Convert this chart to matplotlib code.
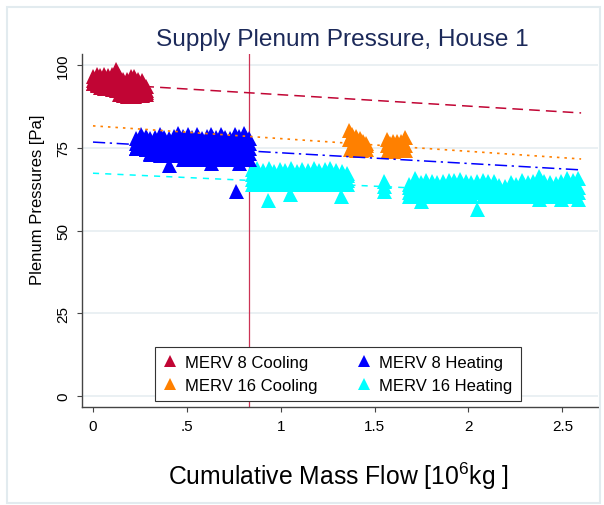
import matplotlib
matplotlib.use("Agg")
import matplotlib.pyplot as plt
from matplotlib.patches import Rectangle

plt.rcParams['font.family'] = ['Liberation Sans', 'DejaVu Sans']
plt.rcParams['mathtext.fontset'] = 'custom'
plt.rcParams['mathtext.rm'] = 'Liberation Sans'

# -- Datos (filas de cada nube de puntos) ------------------------------
# MERV 8 Cooling
m8c_cols = [0.00, 0.02, 0.04, 0.06, 0.08, 0.10, 0.12, 0.14, 0.16, 0.18, 0.20, 0.22, 0.24, 0.26, 0.28]
m8c_top = [96.8, 97.2, 96.9, 97.3, 97.0, 97.3, 98.9, 96.8, 95.6, 95.9, 96.6, 96.8, 95.8, 95.3, 93.5]
m8c_r2 = [95.5, 95.6, 95.4, 95.6, 95.5, 95.4, 95.6, 95.0, 94.2, 94.2, 94.5, 94.4, 94.0, 93.8, 92.5]
m8c_r3 = [94.4, 94.3, 94.0, 94.2, 94.0, 93.8, 93.6, 93.0, 92.5, 92.4, 92.5, 92.3, 92.4, 92.2, 91.8]
m8c_bot = [94.4, 93.8, 93.3, 93.0, 92.9, 92.8, 92.3, 91.3, 90.8, 90.5, 90.6, 90.5, 90.8, 90.8, 91.2]

# MERV 8 Heating
m8h_cols = [0.23, 0.255, 0.28, 0.305, 0.33, 0.355, 0.38, 0.405, 0.43, 0.455, 0.48, 0.505, 0.53,
            0.555, 0.58, 0.605, 0.63, 0.655, 0.68, 0.705, 0.73, 0.755, 0.78, 0.805, 0.83]
m8h_top = [77.8, 79.2, 78.5, 78.0, 78.2, 79.2, 78.3, 78.0, 78.6, 79.4, 78.4, 79.2, 78.3,
           79.2, 78.0, 78.4, 79.0, 78.2, 79.1, 78.3, 78.0, 79.2, 78.4, 79.3, 77.8]
m8h_r2 = [76.4, 76.8, 76.6, 76.5, 76.7, 76.8, 76.5, 76.6, 76.7, 76.8, 76.5, 76.7, 76.6,
          76.8, 76.5, 76.6, 76.8, 76.5, 76.7, 76.6, 76.5, 76.8, 76.6, 76.7, 76.3]
m8h_r3 = [74.9, 75.2, 75.0, 75.1, 75.0, 75.2, 74.9, 75.1, 75.0, 75.2, 75.0, 75.1, 74.9,
          75.2, 75.0, 75.1, 75.0, 75.2, 74.9, 75.1, 75.0, 75.2, 75.0, 75.1, 74.8]
m8h_r4 = [74.8, 74.8, 74.6, 73.5, 73.3, 73.4, 73.2, 73.4, 73.3, 73.5, 73.2, 73.4, 73.3,
          73.5, 73.2, 73.4, 73.3, 73.5, 73.2, 73.4, 73.3, 73.5, 73.2, 73.4, 73.3]
m8h_bot = [74.8, 74.8, 74.6, 73.0, 73.0, 72.9, 73.0, 69.9, 72.8, 72.9, 71.6, 71.7, 71.5,
           71.6, 71.5, 71.8, 70.3, 71.6, 71.5, 71.7, 71.5, 71.6, 70.3, 71.6, 71.5]
m8h_sueltos_x = [0.763]
m8h_sueltos_y = [62.0]

# MERV 16 Cooling
m16c_x = [1.365, 1.38, 1.40, 1.42, 1.44, 1.455, 1.365, 1.39, 1.42, 1.455, 1.37, 1.40, 1.43, 1.455,
          1.567, 1.58, 1.60, 1.62, 1.64, 1.663, 1.567, 1.59, 1.615, 1.64, 1.663, 1.57, 1.60, 1.63, 1.66]
m16c_y = [80.2, 79.0, 78.4, 77.8, 77.0, 76.3, 77.5, 77.0, 76.5, 75.8, 74.6, 74.4, 74.2, 74.6,
          77.5, 76.5, 76.9, 77.0, 77.0, 78.1, 75.8, 75.6, 75.6, 75.6, 75.8, 74.3, 74.1, 74.3, 74.4]

# MERV 16 Heating, primer tramo
m16h_a_cols = [0.845, 0.875, 0.905, 0.935, 0.965, 0.995, 1.025, 1.055, 1.085, 1.115, 1.145, 1.175,
               1.205, 1.235, 1.265, 1.295, 1.325, 1.354]
m16h_a_top = [68.7, 68.9, 68.3, 68.8, 68.1, 68.6, 68.3, 68.9, 68.1, 68.6, 68.2, 68.9,
              68.2, 68.5, 68.9, 68.4, 68.0, 67.4]
m16h_a_r2 = [67.2, 67.3, 67.1, 67.3, 67.2, 67.1, 67.3, 67.2, 67.1, 67.3, 67.2, 67.3,
             67.1, 67.2, 67.3, 67.1, 67.2, 66.8]
m16h_a_r3 = [65.6, 65.7, 65.5, 65.7, 65.6, 65.5, 65.7, 65.6, 65.5, 65.7, 65.6, 65.7,
             65.5, 65.6, 65.7, 65.5, 65.6, 65.4]
m16h_a_bot = [64.0, 64.0, 63.9, 64.1, 63.9, 64.0, 64.0, 63.9, 64.1, 63.9, 64.0, 64.0,
              63.9, 64.1, 63.9, 64.0, 64.0, 63.9]

# MERV 16 Heating, segundo tramo
m16h_b_cols = [1.685, 1.715, 1.745, 1.775, 1.805, 1.835, 1.865, 1.895, 1.925, 1.955, 1.985, 2.015,
               2.045, 2.075, 2.105, 2.135, 2.165, 2.195, 2.225, 2.255, 2.285, 2.315, 2.345, 2.375,
               2.405, 2.435, 2.465, 2.495, 2.525, 2.555, 2.585]
m16h_b_top = [63.9, 65.9, 64.6, 65.4, 64.8, 64.5, 64.8, 65.2, 65.4, 65.6, 64.8, 64.6,
              65.0, 65.4, 64.8, 64.9, 63.6, 63.3, 64.5, 64.0, 65.1, 64.6, 64.8, 66.6,
              64.9, 64.5, 64.3, 64.8, 65.9, 65.2, 65.8]
m16h_b_r2 = [63.0, 63.2, 63.1, 63.0, 63.2, 63.1, 63.0, 63.2, 63.1, 63.0, 63.2, 63.1,
             63.0, 63.2, 63.1, 63.0, 62.8, 62.7, 63.1, 63.0, 63.2, 63.1, 63.0, 63.2,
             63.1, 63.0, 63.2, 63.1, 63.0, 63.2, 63.0]
m16h_b_r3 = [61.6, 61.7, 61.6, 61.5, 61.7, 61.6, 61.5, 61.7, 61.6, 61.5, 61.7, 61.6,
             61.5, 61.7, 61.6, 61.5, 61.7, 61.6, 61.5, 61.7, 61.6, 61.5, 61.7, 61.6,
             61.5, 61.7, 61.6, 61.5, 61.7, 61.6, 61.5]
m16h_b_bot = [60.4, 60.3, 58.8, 60.3, 60.4, 60.3, 60.5, 60.3, 60.4, 60.3, 60.5, 60.3,
              56.6, 60.4, 60.3, 60.5, 60.3, 60.4, 60.3, 60.5, 60.3, 60.4, 60.3, 59.4,
              60.3, 60.5, 60.3, 59.4, 60.4, 60.3, 59.4]

m16h_sueltos_x = [0.93, 1.05, 1.32, 1.55, 1.55, 1.55]
m16h_sueltos_y = [59.3, 60.9, 60.3, 64.8, 63.3, 61.8]

# Ajustes lineales (extremos en x = 0 y x = 2.6)
fit_x = [0.0, 2.6]
fit_m8c = [94.45, 85.5]
fit_m16c = [81.6, 71.6]
fit_m8h = [76.7, 68.3]
fit_m16h = [67.3, 60.5]

corte_x = 0.83

C_M8C = '#c10534'
C_M8H = '#0000ff'
C_M16C = '#ff8000'
C_M16H = '#00ffff'

# -- Armado de las series ---------------------------------------------
m8c_x = m8c_cols + m8c_cols + m8c_cols + m8c_cols
m8c_y = m8c_top + m8c_r2 + m8c_r3 + m8c_bot
m8h_x = m8h_cols + m8h_cols + m8h_cols + m8h_cols + m8h_cols + m8h_sueltos_x
m8h_y = m8h_top + m8h_r2 + m8h_r3 + m8h_r4 + m8h_bot + m8h_sueltos_y
m16h_x = (m16h_a_cols * 4) + (m16h_b_cols * 4) + m16h_sueltos_x
m16h_y = (m16h_a_top + m16h_a_r2 + m16h_a_r3 + m16h_a_bot
          + m16h_b_top + m16h_b_r2 + m16h_b_r3 + m16h_b_bot + m16h_sueltos_y)

# -- Grafico -----------------------------------------------------------
fig = plt.figure(figsize=(6.04, 5.06), dpi=100)
ax = fig.add_axes([82/604, 1 - 408/506, 516/604, 353/506])

fig.patches.append(Rectangle((6.5/604, 2/506), 593.5/604, 496.5/506, transform=fig.transFigure,
                             fill=False, edgecolor='#e2ebef', lw=1.5))

ax.axvline(corte_x, color='#cc3355', lw=0.9, zorder=1)

ms = 10.8
ax.plot(m8c_x, m8c_y, '^', color=C_M8C, ms=ms, mew=0, ls='none', zorder=2, label='MERV 8 Cooling')
ax.plot(m16h_x, m16h_y, '^', color=C_M16H, ms=ms, mew=0, ls='none', zorder=2, label='MERV 16 Heating')
ax.plot(m8h_x, m8h_y, '^', color=C_M8H, ms=ms, mew=0, ls='none', zorder=2, label='MERV 8 Heating')
ax.plot(m16c_x, m16c_y, '^', color=C_M16C, ms=ms, mew=0, ls='none', zorder=2, label='MERV 16 Cooling')

ax.plot(fit_x, fit_m8c, color=C_M8C, lw=1.1, ls=(0, (7, 4)), zorder=3)
ax.plot(fit_x, fit_m16c, color=C_M16C, lw=1.2, ls=(0, (1.5, 3)), zorder=3)
ax.plot(fit_x, fit_m8h, color=C_M8H, lw=1.1, ls=(0, (8, 3, 1.5, 3)), zorder=3)
ax.plot(fit_x, fit_m16h, color=C_M16H, lw=1.1, ls=(0, (4, 4)), zorder=3)

ax.set_xlim(-0.0585, 2.69)
ax.set_ylim(-3.3, 103.3)
ax.set_xticks([0, 0.5, 1, 1.5, 2, 2.5])
ax.set_xticklabels(['0', '.5', '1', '1.5', '2', '2.5'])
ax.set_yticks([0, 25, 50, 75, 100])
ax.set_yticklabels(['0', '25', '50', '75', '100'], rotation=90, va='center')
ax.tick_params(direction='out', length=3.6, width=0.8, color='#444444', labelsize=11, pad=5)

ax.grid(axis='y', color='#e6eef1', lw=1.2)
ax.set_axisbelow(True)
for s in ['top', 'right']:
    ax.spines[s].set_visible(False)
for s in ['left', 'bottom']:
    ax.spines[s].set_color('#444444')
    ax.spines[s].set_linewidth(1.0)

ax.set_ylabel('Plenum Pressures [Pa]', fontsize=12)
ax.yaxis.set_label_coords(-0.072, 0.59)
ax.set_xlabel(r'Cumulative Mass Flow [10$^{\mathregular{6}}$kg ]', fontsize=17.8)
ax.xaxis.set_label_coords(0.497, -0.150)

fig.text(342/604, 1 - 40/506, 'Supply Plenum Pressure, House 1', fontsize=17.6,
         color='#1c2a5a', ha='center', va='center')

h, l = ax.get_legend_handles_labels()
orden = [0, 3, 2, 1]
leg = ax.legend([h[i] for i in orden], [l[i] for i in orden], ncol=2, fontsize=12,
                loc='lower left', bbox_to_anchor=(0.1415, 0.017), borderaxespad=0,
                handlelength=0.8, handletextpad=0.5, columnspacing=2.4, borderpad=0.5,
                labelspacing=0.45, fancybox=False, framealpha=1, markerscale=0.85)
leg.get_frame().set_edgecolor('#333333')
leg.get_frame().set_linewidth(0.8)

fig.savefig('out.png', dpi=100)
